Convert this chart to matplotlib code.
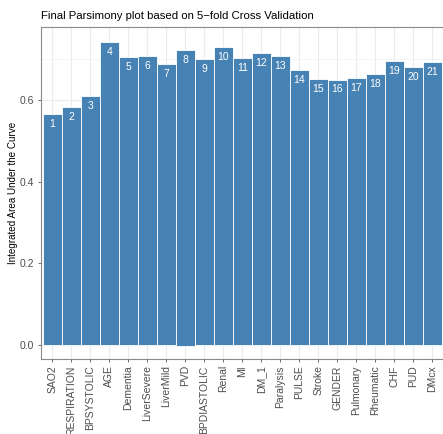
import matplotlib

matplotlib.use("Agg")
import matplotlib.pyplot as plt
import numpy as np

plt.rcParams["font.family"] = ["Liberation Sans", "DejaVu Sans"]

# AUC per variable
variables = ["SAO2", "RESPIRATION", "BPSYSTOLIC", "AGE", "Dementia", "LiverSevere",
             "LiverMild", "PVD", "BPDIASTOLIC", "Renal", "MI", "DM_1", "Paralysis",
             "PULSE", "Stroke", "GENDER", "Pulmonary", "Rheumatic", "CHF", "PUD", "DMcx"]
auc = [0.5655, 0.5826, 0.6095, 0.7417, 0.7050, 0.7075, 0.6879, 0.7229, 0.7001,
       0.7295, 0.7026, 0.7148, 0.7075, 0.6732, 0.6512, 0.6495, 0.6536, 0.6634,
       0.6952, 0.6805, 0.6928]
bar_base = [0, 0, 0, 0, 0, 0, 0, -0.003, 0, 0, 0, 0, 0, 0, 0, 0, 0, 0, 0, 0, 0]
labels = [str(i + 1) for i in range(len(variables))]

fig = plt.figure(figsize=(4.43, 4.34), dpi=100)
# panel runs past the right edge of the image, as in the original
ax = fig.add_axes([40.7 / 443, 1 - 359 / 434, 406 / 443, 331.7 / 434])

x = np.arange(len(variables))
heights = np.array(auc) - np.array(bar_base)
ax.bar(x, heights, bottom=bar_base, width=1.0, color="#4682B4",
       edgecolor="white", linewidth=0.6, zorder=2)

for xi, v, lab in zip(x, auc, labels):
    ax.annotate(lab, (xi, v), xytext=(0, -7), textcoords="offset points",
                ha="center", va="center", color="white", fontsize=7.5, zorder=3)

ax.set_xlim(-0.6, len(variables) - 0.4 + 0.15)
ax.set_ylim(-0.0345, 0.778)
ax.set_xticks(x)
ax.set_xticklabels(variables, rotation=90, fontsize=7.5, color="#4D4D4D")
ax.set_yticks([0.0, 0.2, 0.4, 0.6])
ax.set_yticklabels(["0.0", "0.2", "0.4", "0.6"], fontsize=7.5, color="#4D4D4D")
ax.set_yticks([0.1, 0.3, 0.5, 0.7], minor=True)
ax.tick_params(axis="both", which="major", length=2.5, width=0.5, color="#333333", pad=2)
ax.tick_params(axis="y", which="minor", length=0)

ax.grid(True, which="major", color="#EBEBEB", linewidth=0.8, zorder=0)
ax.grid(True, which="minor", axis="y", color="#F2F2F2", linewidth=0.5, zorder=0)
ax.set_axisbelow(True)
for s in ax.spines.values():
    s.set_color("#8A8A8A")
    s.set_linewidth(0.8)

ax.set_ylabel("Integrated Area Under the Curve", fontsize=7.1)
ax.yaxis.set_label_coords(-0.057, 0.5)
ax.set_title("Final Parsimony plot based on 5\u2212fold Cross Validation",
             fontsize=8.2, loc="left", pad=6)

fig.savefig("out.png", dpi=100)
